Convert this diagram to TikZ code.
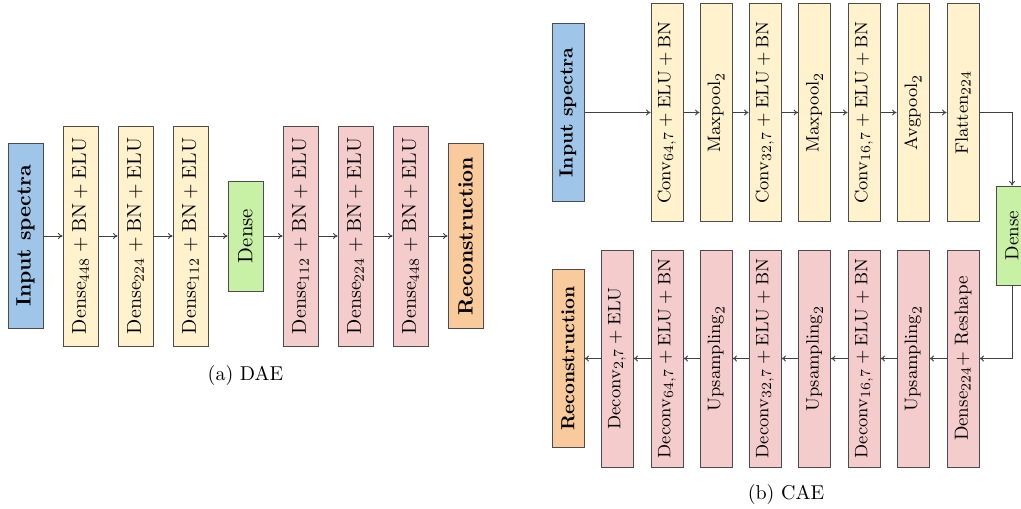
\documentclass[tikz,border=0pt]{standalone}
\usetikzlibrary{arrows.meta}
\definecolor{cblue}{HTML}{9FC5E8}
\definecolor{cyellow}{HTML}{FFF2CC}
\definecolor{cgreen}{RGB}{200,241,166}
\definecolor{cpink}{HTML}{F4CCCC}
\definecolor{corange}{HTML}{F9CB9C}
\tikzset{
  blk/.style={draw=black!70, line width=0.5pt, inner sep=0pt, rectangle},
  dae/.style={blk, minimum width=17.5pt, minimum height=110pt, font=\fontsize{10.4}{12}\selectfont},
  daeio/.style={dae, minimum height=92.5pt},
  daemid/.style={dae, minimum height=55pt},
  cae/.style={blk, minimum width=16pt, minimum height=108.5pt, font=\fontsize{9.5}{11}\selectfont},
  caeio/.style={cae, minimum height=89pt},
  caemid/.style={cae, minimum height=49.5pt},
  conn/.style={draw=black!75, line width=0.45pt, -{To[length=2.2pt,width=3pt]}},
}
\newcommand{\rt}[1]{\rotatebox{90}{#1}}
\begin{document}
\begin{tikzpicture}[x=0.5pt,y=-0.5pt]
\useasboundingbox (0,0) rectangle (1021,508);
\clip (0,0) rectangle (1021,508);
% ---------------- DAE ----------------
\node[daeio, fill=cblue]  (ai) at (25.5,236) {\rt{\textbf{Input spectra}}};
\node[dae, fill=cyellow]  (a1) at (80.5,236) {\rt{$\mathrm{Dense}_{448}+\mathrm{BN}+\mathrm{ELU}$}};
\node[dae, fill=cyellow]  (a2) at (135.5,236) {\rt{$\mathrm{Dense}_{224}+\mathrm{BN}+\mathrm{ELU}$}};
\node[dae, fill=cyellow]  (a3) at (190.5,236) {\rt{$\mathrm{Dense}_{112}+\mathrm{BN}+\mathrm{ELU}$}};
\node[daemid, fill=cgreen] (a4) at (245.5,236) {\rt{Dense}};
\node[dae, fill=cpink]    (a5) at (300.5,236) {\rt{$\mathrm{Dense}_{112}+\mathrm{BN}+\mathrm{ELU}$}};
\node[dae, fill=cpink]    (a6) at (355.5,236) {\rt{$\mathrm{Dense}_{224}+\mathrm{BN}+\mathrm{ELU}$}};
\node[dae, fill=cpink]    (a7) at (410.5,236) {\rt{$\mathrm{Dense}_{448}+\mathrm{BN}+\mathrm{ELU}$}};
\node[daeio, fill=corange] (ao) at (465.5,236) {\rt{\textbf{Reconstruction}}};
\foreach \p/\q in {ai/a1,a1/a2,a2/a3,a3/a4,a4/a5,a5/a6,a6/a7,a7/ao}
  \draw[conn] (\p) -- (\q);
\node (capa) at (245.5,375) {(a) DAE};
% ---------------- CAE ----------------
\node[caeio, fill=cblue]  (bi) at (568,112.5) {\rt{\textbf{Input spectra}}};
\node[cae, fill=cyellow]  (b1) at (667,112.5) {\rt{$\mathrm{Conv}_{64,7}+\mathrm{ELU}+\mathrm{BN}$}};
\node[cae, fill=cyellow]  (b2) at (716,112.5) {\rt{$\mathrm{Maxpool}_{2}$}};
\node[cae, fill=cyellow]  (b3) at (765,112.5) {\rt{$\mathrm{Conv}_{32,7}+\mathrm{ELU}+\mathrm{BN}$}};
\node[cae, fill=cyellow]  (b4) at (814.5,112.5) {\rt{$\mathrm{Maxpool}_{2}$}};
\node[cae, fill=cyellow]  (b5) at (864,112.5) {\rt{$\mathrm{Conv}_{16,7}+\mathrm{ELU}+\mathrm{BN}$}};
\node[cae, fill=cyellow]  (b6) at (913,112.5) {\rt{$\mathrm{Avgpool}_{2}$}};
\node[cae, fill=cyellow]  (b7) at (963,112.5) {\rt{$\mathrm{Flatten}_{224}$}};
\node[caemid, fill=cgreen] (bd) at (1012,235.5) {\rt{Dense}};
\node[cae, fill=cpink]    (c7) at (963,358.5) {\rt{Dense$_{224}$+ Reshape}};
\node[cae, fill=cpink]    (c6) at (913,358.5) {\rt{$\mathrm{Upsampling}_{2}$}};
\node[cae, fill=cpink]    (c5) at (864,358.5) {\rt{$\mathrm{Deconv}_{16,7}+\mathrm{ELU}+\mathrm{BN}$}};
\node[cae, fill=cpink]    (c4) at (814.5,358.5) {\rt{$\mathrm{Upsampling}_{2}$}};
\node[cae, fill=cpink]    (c3) at (765,358.5) {\rt{$\mathrm{Deconv}_{32,7}+\mathrm{ELU}+\mathrm{BN}$}};
\node[cae, fill=cpink]    (c2) at (716,358.5) {\rt{$\mathrm{Upsampling}_{2}$}};
\node[cae, fill=cpink]    (c1) at (667,358.5) {\rt{$\mathrm{Deconv}_{64,7}+\mathrm{ELU}+\mathrm{BN}$}};
\node[cae, fill=cpink]    (c0) at (617,358.5) {\rt{$\mathrm{Deconv}_{2,7}+\mathrm{ELU}$}};
\node[caeio, fill=corange] (bo) at (568,358.5) {\rt{\textbf{Reconstruction}}};
\foreach \p/\q in {bi/b1,b1/b2,b2/b3,b3/b4,b4/b5,b5/b6,b6/b7,c7/c6,c6/c5,c5/c4,c4/c3,c3/c2,c2/c1,c1/c0,c0/bo}
  \draw[conn] (\p) -- (\q);
\draw[conn] (b7) -| (bd);
\draw[conn] (bd) |- (c7);
\node (capb) at (786,494) {(b) CAE};
\end{tikzpicture}
\end{document}
